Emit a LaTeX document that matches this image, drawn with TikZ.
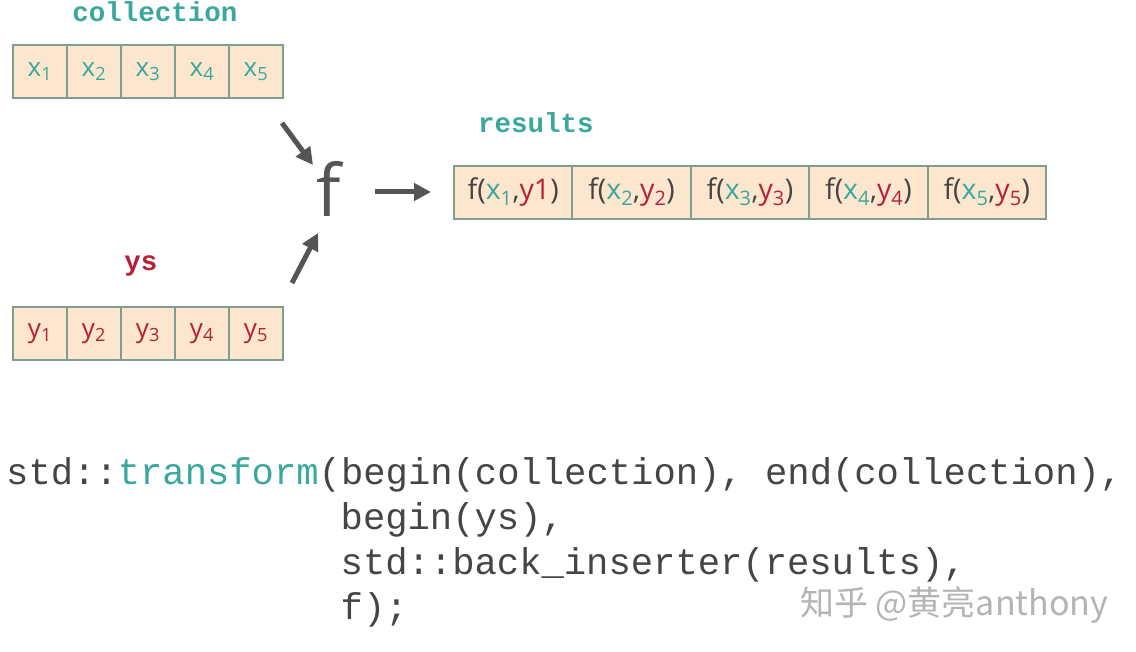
\documentclass[tikz,border=0pt]{standalone}
\usepackage{fontspec}
\setmainfont{Open Sans}
\newfontfamily\codefont{Liberation Mono}
\newfontfamily\cjkfont{Noto Sans CJK SC}
\usetikzlibrary{arrows.meta}
\definecolor{xcol}{HTML}{3AA89C}
\definecolor{ycol}{HTML}{B5203C}
\definecolor{txtgray}{HTML}{454545}
\definecolor{cellfill}{HTML}{FCE6CE}
\definecolor{cellline}{HTML}{7F9E8E}
\definecolor{arrgray}{HTML}{555555}
\definecolor{wmgray}{HTML}{B4B4B4}
\newcommand{\xv}[1]{{\color{xcol}x\textsubscript{#1}}}
\newcommand{\yv}[1]{{\color{ycol}y\textsubscript{#1}}}
\begin{document}
\begin{tikzpicture}[x=1pt,y=-1pt,
  cell/.style={draw=cellline,fill=cellfill,line width=2pt,inner sep=0pt,
    minimum width=54pt,minimum height=53pt,anchor=north west,
    font=\fontsize{26}{30}\selectfont},
  rcell/.style={cell,minimum width=118.4pt,text=txtgray,
    font=\fontsize{28.5}{32}\selectfont},
  lbl/.style={font=\codefont\bfseries\fontsize{27.5}{32}\selectfont},
  code/.style={anchor=base west,inner sep=0pt,text=txtgray,
    font=\codefont\fontsize{37.2}{44}\selectfont},
  arr/.style={draw=arrgray,line width=5pt,-{Triangle[length=17pt,width=17pt]}}]
\useasboundingbox[fill=white] (0,0) rectangle (1136,652);
% collection
\node[lbl,text=xcol] (lcoll) at (155,12) {collection};
\foreach \i in {1,...,5}{
  \node[cell,text=xcol] (c\i) at ({12+54*(\i-1)},44) {x\textsubscript{\i}};
}
% ys
\node[lbl,text=ycol] (lys) at (141,266) {ys};
\foreach \i in {1,...,5}{
  \node[cell,text=ycol] (y\i) at ({12+54*(\i-1)},306) {y\textsubscript{\i}};
}
% results
\node[lbl,text=xcol] (lres) at (536,123) {results};
\node[rcell] (r1) at (453,165) {f(\xv{1},{\color{ycol}y1})};
\node[rcell] (r2) at (571.4,165) {f(\xv{2},\yv{2})};
\node[rcell] (r3) at (689.8,165) {f(\xv{3},\yv{3})};
\node[rcell] (r4) at (808.2,165) {f(\xv{4},\yv{4})};
\node[rcell] (r5) at (926.6,165) {f(\xv{5},\yv{5})};
% f
\node[text=arrgray,font=\fontsize{72}{80}\selectfont,inner sep=0pt] (f) at (329,189) {f};
\coordinate (a1s) at (282,123);
\coordinate (a1e) at (313,165);
\coordinate (a2s) at (292,283);
\coordinate (a2e) at (318,233);
\coordinate (a3s) at (375,192);
\coordinate (a3e) at (431,192);
\draw[arr] (a1s) -- (a1e);
\draw[arr] (a2s) -- (a2e);
\draw[arr] (a3s) -- (a3e);
% code
\node[code] (code1) at (6,484) {std::{\color{xcol}transform}(begin(collection), end(collection),};
\node[code] (code2) at (340.5,529) {begin(ys),};
\node[code] (code3) at (340.5,574) {std::back\_inserter(results),};
\node[code] (code4) at (340.5,619) {f);};
% watermark
\node[text=wmgray,anchor=base west,inner sep=0pt,font=\cjkfont\fontsize{34}{38}\selectfont] (wm) at (800,615) {知乎 @黄亮anthony};
\end{tikzpicture}
\end{document}
